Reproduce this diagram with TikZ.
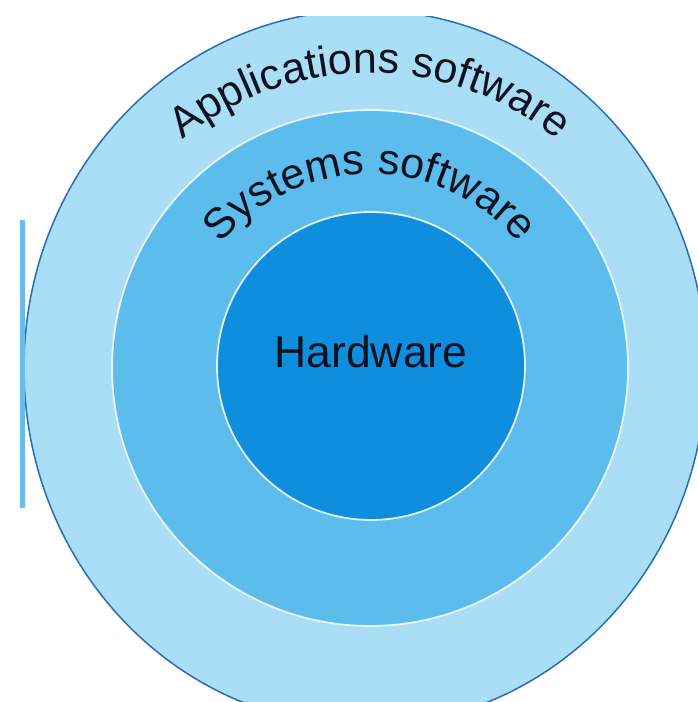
\documentclass[tikz,border=0pt]{standalone}
\usepackage{fontspec}
\setmainfont{Liberation Sans}
\usetikzlibrary{decorations.text}
\definecolor{appblue}{RGB}{170,222,247}
\definecolor{sysblue}{RGB}{92,188,236}
\definecolor{hwblue}{RGB}{16,142,222}
\definecolor{rimblue}{RGB}{40,110,178}
\definecolor{barblue}{RGB}{104,188,238}
\definecolor{ringink}{RGB}{12,18,32}
\newcommand{\ringfont}{\fontsize{43}{43}\selectfont}

\begin{document}
\begin{tikzpicture}[x=1pt,y=1pt,
  ringlabel/.style={decorate,decoration={text along path,text align=center,
    text={|\ringfont\color{ringink}|#1}}}]
\useasboundingbox (0,0) rectangle (698,702);
\fill[white] (0,0) rectangle (698,702);
\begin{scope}
\clip (20,0) rectangle (698,685);
% the three layers
\fill[appblue,draw=rimblue,line width=1.5pt] (365,334) ellipse (341 and 358);
\fill[sysblue,draw=white!85!sysblue,line width=1.8pt] (370,334) circle (258);
\fill[hwblue,draw=white!80!sysblue,line width=1.8pt] (371,336) circle (154);
% side bar
\fill[barblue] (20,194) rectangle (25,482);
\end{scope}

% labels on the rings
\path[ringlabel=Applications software] (370,334) ++(166:295) arc[start angle=166,end angle=14,radius=295];
\path[ringlabel=Systems software] (370,334) ++(160:194) arc[start angle=160,end angle=20,radius=194];
\node[font=\fontsize{44.5}{44.5}\selectfont,text=ringink] (hw) at (371,350) {Hardware};
\end{tikzpicture}
\end{document}
